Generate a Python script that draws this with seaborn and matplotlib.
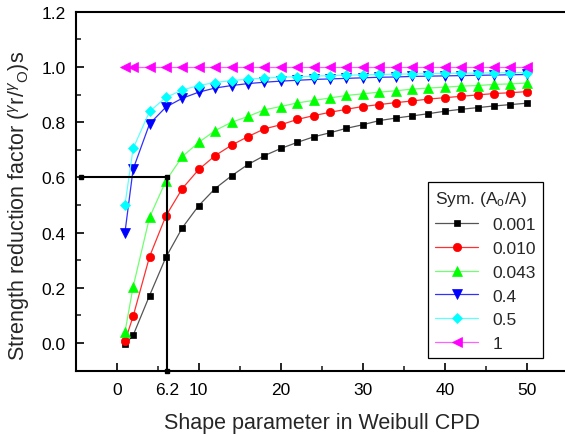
import numpy as np
import pandas as pd
import matplotlib
matplotlib.use("Agg")
import matplotlib.pyplot as plt
import seaborn as sns
from matplotlib.ticker import MultipleLocator, FixedLocator

# ---------------- data ----------------
shape_param = [1, 2, 4, 6, 8, 10, 12, 14, 16, 18, 20, 22, 24, 26, 28, 30,
               32, 34, 36, 38, 40, 42, 44, 46, 48, 50]

r_0001 = [-0.005, 0.028, 0.172, 0.311, 0.418, 0.498, 0.560, 0.606, 0.647, 0.679,
          0.705, 0.727, 0.747, 0.762, 0.778, 0.791, 0.806, 0.815, 0.823, 0.831,
          0.840, 0.847, 0.853, 0.859, 0.864, 0.869]
r_0010 = [0.006, 0.097, 0.313, 0.461, 0.560, 0.629, 0.679, 0.717, 0.748, 0.776,
          0.791, 0.810, 0.824, 0.836, 0.847, 0.857, 0.864, 0.871, 0.877, 0.884,
          0.889, 0.894, 0.899, 0.904, 0.907, 0.911]
r_0043 = [0.039, 0.204, 0.455, 0.588, 0.676, 0.727, 0.770, 0.800, 0.821, 0.845,
          0.857, 0.870, 0.879, 0.888, 0.897, 0.903, 0.909, 0.914, 0.920, 0.924,
          0.927, 0.931, 0.933, 0.937, 0.939, 0.942]
r_04 = [0.400, 0.630, 0.794, 0.855, 0.887, 0.909, 0.924, 0.933, 0.940, 0.945,
        0.949, 0.952, 0.955, 0.957, 0.959, 0.961, 0.963, 0.964, 0.966, 0.967,
        0.968, 0.969, 0.970, 0.971, 0.972, 0.973]
r_05 = [0.500, 0.705, 0.839, 0.890, 0.917, 0.933, 0.944, 0.951, 0.956, 0.960,
        0.963, 0.965, 0.967, 0.969, 0.970, 0.972, 0.973, 0.974, 0.975, 0.976,
        0.977, 0.978, 0.978, 0.979, 0.980, 0.980]
r_1 = [1.0] * 26

series_labels = ["0.001", "0.010", "0.043", "0.4", "0.5", "1"]
series_values = [r_0001, r_0010, r_0043, r_04, r_05, r_1]

guide_x = [-4.3, 6.1, 6.1]
guide_y = [0.6, 0.6, -0.1]

x_major_ticks = [0, 6.1, 10, 20, 30, 40, 50]
x_tick_labels = ["0", "6.2", "10", "20", "30", "40", "50"]

# ---------------- style ----------------
sns.set_style("ticks")
plt.rcParams["font.family"] = ["Liberation Sans", "DejaVu Sans"]
plt.rcParams["mathtext.fontset"] = "custom"
plt.rcParams["mathtext.rm"] = "Liberation Sans"
plt.rcParams["mathtext.it"] = "Liberation Sans:italic"

marker_styles = ["s", "o", "^", "v", "D", "<"]
marker_colors = ["#000000", "#ff0000", "#00ff00", "#0000ff", "#00ffff", "#ff00ff"]
line_colors = ["#555555", "#ff3030", "#70ff70", "#3030ff", "#60ffff", "#ff60ff"]
marker_sizes = [5, 6, 6.5, 6.5, 5.5, 6.5]

fig = plt.figure(figsize=(5.65, 4.35), dpi=100)
ax = fig.add_axes([0.134, 0.1455, 0.871, 0.825])

df = pd.DataFrame({"x": shape_param})
for lab, vals in zip(series_labels, series_values):
    df[lab] = vals

for i, lab in enumerate(series_labels):
    sns.lineplot(data=df, x="x", y=lab, ax=ax, color=line_colors[i],
                 marker=marker_styles[i], markersize=marker_sizes[i],
                 markerfacecolor=marker_colors[i], markeredgecolor=marker_colors[i],
                 markeredgewidth=0.5, linewidth=0.9, label=lab, zorder=3 + i * 0.1)

ax.plot(guide_x, guide_y, color="black", linewidth=1.5, marker="s",
        markersize=2.5, zorder=5, clip_on=False)

ax.set_xlim(-5, 55)
ax.set_ylim(-0.1, 1.2)

ax.xaxis.set_major_locator(FixedLocator(x_major_ticks))
ax.set_xticklabels(x_tick_labels)
ax.xaxis.set_minor_locator(FixedLocator([5, 15, 25, 35, 45]))
ax.yaxis.set_major_locator(MultipleLocator(0.2))
ax.yaxis.set_minor_locator(MultipleLocator(0.1))
ax.yaxis.set_major_formatter(matplotlib.ticker.FormatStrFormatter("%.1f"))

ax.tick_params(axis="both", which="major", direction="in", length=6, width=1.2,
               labelsize=12.5, colors="black")
ax.tick_params(axis="both", which="minor", direction="in", length=3.5, width=1.2)
ax.tick_params(axis="x", which="major", pad=8)
ax.tick_params(axis="y", which="major", pad=7)

for sp in ax.spines.values():
    sp.set_linewidth(1.5)
    sp.set_color("black")

ax.set_xlabel("Shape parameter in Weibull CPD", fontsize=15.5, labelpad=11)
ax.set_ylabel(r"Strength reduction factor (${}^{\gamma}{\rm r}/{}^{\gamma}{}_{\rm O}$)s",
              fontsize=15.5)
ax.yaxis.set_label_coords(-0.088, 0.462)

handles, labels = ax.get_legend_handles_labels()
leg = ax.legend(handles[:6], labels[:6], title=r"Sym. (A$_{\rm o}$/A)",
                loc="upper left", bbox_to_anchor=(0.716, 0.525), borderaxespad=0,
                fontsize=12.5, title_fontsize=12.5, frameon=True, fancybox=False,
                edgecolor="black", framealpha=1, handlelength=2.5,
                labelspacing=0.5, alignment="left", borderpad=0.4)
leg.get_frame().set_linewidth(0.9)

fig.savefig("out.png", dpi=100)
